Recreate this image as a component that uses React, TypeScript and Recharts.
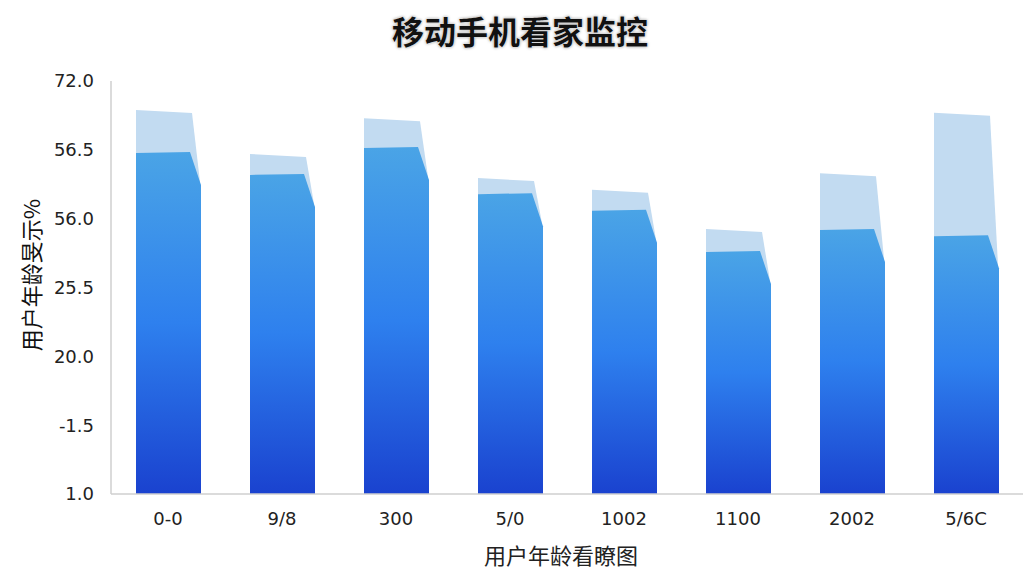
import React from 'react';
import { BarChart, Bar, XAxis, YAxis } from 'recharts';

// categories along the x axis
const categories = ['0-0', '9/8', '300', '5/0', '1002', '1100', '2002', '5/6C'];
// front (gradient) bar heights, in tick steps
const frontValues = [4.97, 4.65, 5.04, 4.37, 4.13, 3.53, 3.85, 3.76];
// pale back bar heights, in tick steps
const backValues = [5.58, 4.94, 5.46, 4.59, 4.42, 3.85, 4.66, 5.54];
// y tick labels, bottom to top
const yTickLabels = ['1.0', '-1.5', '20.0', '25.5', '56.0', '56.5', '72.0'];
const yTicks = yTickLabels.map((_, i) => i);

const data = categories.map((name, i) => ({
  name,
  front: frontValues[i],
  back: backValues[i],
}));

const FrontShape = (props: any) => {
  const { x, y, width, height } = props;
  if (!height) return null;
  const d = `M${x},${y + height} L${x},${y + 1} L${x + width - 11},${y} L${x + width},${y + 33} L${x + width},${y + height} Z`;
  return <path d={d} fill="url(#frontGrad)" />;
};

const BackShape = (props: any) => {
  const { x, y, width, height, payload } = props;
  if (!height) return null;
  const perUnit = height / payload.back;
  const frontTop = y + height - payload.front * perUnit;
  const d = `M${x},${y + height} L${x},${y} L${x + width - 9},${y + 3} L${x + width - 1},${frontTop + 30} L${x + width - 1},${y + height} Z`;
  return <path d={d} fill="#c2dbf1" />;
};

const cjk = '"Noto Sans CJK SC", sans-serif';

export default function App() {
  return (
    <div style={{ position: 'absolute', left: 0, top: 0, width: 1024, height: 576, background: '#fff' }}>
      <div
        style={{
          position: 'absolute',
          left: 0,
          width: 1040,
          top: 7,
          textAlign: 'center',
          fontFamily: cjk,
          fontWeight: 700,
          fontSize: 32,
          color: '#111',
          textShadow: '0 0 1px #fff, 0 0 2px #fff, 0 0 3px #666',
        }}
      >
        移动手机看家监控
      </div>
      <div
        style={{
          position: 'absolute',
          left: 30,
          top: 275,
          transform: 'translate(-50%, -50%) rotate(-90deg)',
          whiteSpace: 'nowrap',
          fontFamily: cjk,
          fontSize: 22,
          color: '#111',
        }}
      >
        用户年龄旻示%
      </div>
      <div
        style={{
          position: 'absolute',
          left: 561,
          top: 554,
          transform: 'translate(-50%, -50%)',
          whiteSpace: 'nowrap',
          fontFamily: cjk,
          fontSize: 22,
          color: '#222',
        }}
      >
        用户年龄看瞭图
      </div>
      <BarChart
        width={1024}
        height={576}
        data={data}
        margin={{ top: 81, right: 1, bottom: 0, left: 0 }}
        barSize={65}
        barGap={-65}
        style={{ position: 'absolute', left: 0, top: 0 }}
      >
        <defs>
          <linearGradient id="frontGrad" x1="0" y1="0" x2="0" y2="1">
            <stop offset="0%" stopColor="#4aa4e6" />
            <stop offset="50%" stopColor="#2e80ee" />
            <stop offset="100%" stopColor="#1a42cf" />
          </linearGradient>
        </defs>
        <XAxis
          dataKey="name"
          axisLine={{ stroke: '#cfcfcf', strokeWidth: 1.5 }}
          tickLine={false}
          tickMargin={12}
          tick={{ fill: '#222', fontSize: 18, fontFamily: '"DejaVu Sans", sans-serif' }}
          height={82}
        />
        <YAxis
          type="number"
          domain={[0, 6]}
          ticks={yTicks}
          interval={0}
          width={111}
          axisLine={{ stroke: '#cfcfcf', strokeWidth: 1.5 }}
          tickLine={false}
          tickSize={0}
          tickMargin={17}
          tickFormatter={(v: number) => yTickLabels[v]}
          tick={{ fill: '#222', fontSize: 18, fontFamily: '"DejaVu Sans", sans-serif' }}
        />
        <Bar dataKey="back" shape={BackShape} isAnimationActive={false} />
        <Bar dataKey="front" shape={FrontShape} isAnimationActive={false} />
      </BarChart>
    </div>
  );
}
